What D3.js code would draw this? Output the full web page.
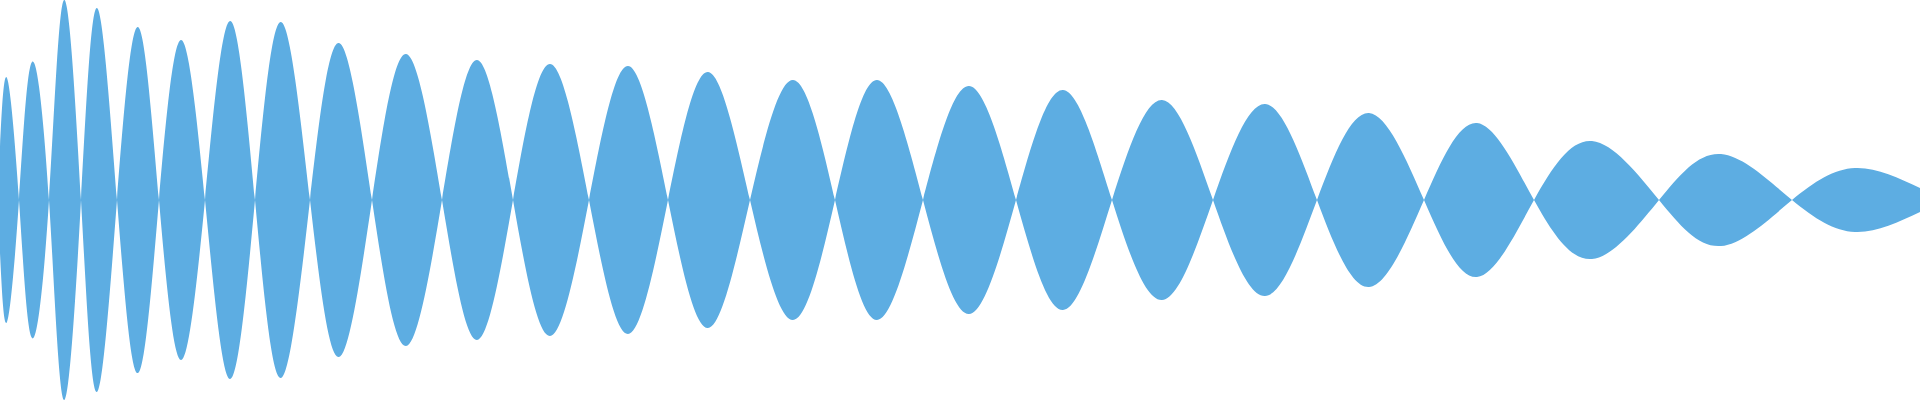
<!DOCTYPE html>
<html>
<head>
<meta charset="utf-8">
<script src="https://cdn.jsdelivr.net/npm/d3@7"></script>
<style>
  html, body { margin: 0; padding: 0; background: #ffffff; overflow: hidden; }
  svg { display: block; }
</style>
</head>
<body>
<svg id="chart" width="1920" height="400"></svg>
<script>
// Zero crossings of the waveform (time units)
const crossings = [19, 49, 81, 117, 159, 205, 255, 310, 372, 442, 513, 589, 668, 750, 835, 923, 1016, 1112, 1213, 1317, 1424, 1534, 1659, 1792];
// Position of each lobe's peak
const peakPositions = [7, 32, 64, 97, 138, 181, 230, 281, 339, 406, 477, 550, 628, 708, 793, 877, 969, 1063, 1162, 1265, 1369, 1477, 1592, 1721, 1855];
// Peak amplitude of each lobe
const peakAmplitudes = [122, 138, 200, 192, 173, 160, 179, 178, 157, 146, 140, 136, 134, 128, 120, 120, 114, 110, 100, 96, 87, 77, 59, 46, 32];
// Values at the two ends of the visible window
const startPoint = { t: 0, v: 53 };
const endPoint = { t: 1920, v: 12 };

const width = 1920, height = 400;
const svg = d3.select("#chart");

// Build the signed signal from the arrays
const signal = [];
signal.push({ t: startPoint.t, v: startPoint.v });
peakPositions.forEach((p, i) => {
  const sign = i % 2 === 0 ? 1 : -1;
  signal.push({ t: p, v: sign * peakAmplitudes[i] });
  if (i < crossings.length) signal.push({ t: crossings[i], v: 0 });
});
const lastSign = (peakPositions.length - 1) % 2 === 0 ? 1 : -1;
signal.push({ t: endPoint.t, v: lastSign * endPoint.v });

const x = d3.scaleLinear().domain([0, 1920]).range([0, width]);
const y = d3.scaleLinear().domain([-200, 200]).range([height, 0]);

const area = d3.area()
  .x(d => x(d.t))
  .y0(d => y(-d.v))
  .y1(d => y(d.v))
  .curve(d3.curveNatural);

svg.append("path")
  .datum(signal)
  .attr("d", area)
  .attr("fill", "#5DADE2")
  .attr("fill-rule", "nonzero")
  .attr("stroke", "none");
</script>
</body>
</html>
